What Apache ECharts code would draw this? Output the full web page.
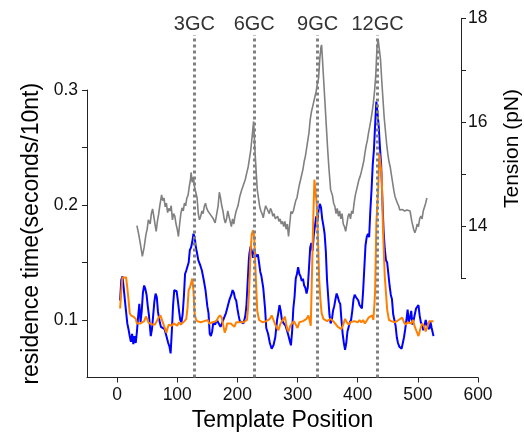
<!DOCTYPE html>
<html>
<head>
<meta charset="utf-8">
<script src="https://cdn.jsdelivr.net/npm/echarts@6/dist/echarts.min.js"></script>
<style>html,body{margin:0;padding:0;background:#fff}#c{width:524px;height:433px}</style>
</head>
<body>
<div id="c"></div>
<script>
// ---- data ----
const xTicks = [0, 100, 200, 300, 400, 500, 600];
const leftLabels = [0.1, 0.2, 0.3];
const leftTicks = [0.1, 0.15, 0.2, 0.25, 0.3];
const rightLabels = [14, 16, 18];
const rightTicks = [13, 14, 15, 16, 17, 18];
const gcPositions = [128.6, 228, 333.3, 433];
const gcLabels = ['3GC', '6GC', '9GC', '12GC'];

const blueX = [5,7,9,11,14,17,19,21,23,25,27,29,31,33,35,37,39,41,43,45,47,49,51,53,56,58,60,62,64,66,68,71,73,76,79,82,85,87,89,91,93,95,97,99,101,103,105,107,109,111,113,115,117,119,121,123,125,127,129,131,133,135,138,141,144,147,150,152,154,156,158,160,163,166,169,172,175,178,181,184,187,190,192,194,196,198,200,202,204,207,210,213,215,217,219,220,222,224,226,228,230,232,234,236,238,240,243,246,248,251,254,257,260,263,266,268,270,272,274,277,280,283,285,287,289,291,293,295,297,299,301,303,305,307,309,311,313,315,317,319,321,323,325,327,329,331,333,335,337,339,341,343,345,347,349,351,353,355,357,359,361,363,365,367,369,371,373,375,377,379,381,383,385,387,389,391,393,395,397,399,401,403,405,407,409,411,413,415,417,419,421,423,425,427,429,431,433,435,437,439,441,443,445,447,449,451,453,455,457,459,461,463,465,467,469,471,473,475,477,479,481,483,485,487,489,491,493,495,497,499,501,503,505,507,509,511,513,515,517,519,521,523,526];
const blueY = [0.117,0.135,0.138,0.128,0.112,0.097,0.092,0.086,0.081,0.088,0.079,0.086,0.080,0.090,0.103,0.114,0.098,0.108,0.124,0.130,0.127,0.122,0.112,0.104,0.086,0.092,0.104,0.116,0.123,0.120,0.107,0.098,0.094,0.095,0.092,0.086,0.080,0.077,0.071,0.090,0.112,0.126,0.127,0.125,0.117,0.108,0.100,0.098,0.105,0.120,0.140,0.143,0.144,0.150,0.161,0.163,0.168,0.175,0.172,0.163,0.158,0.152,0.148,0.143,0.135,0.126,0.112,0.106,0.088,0.086,0.090,0.098,0.096,0.100,0.097,0.094,0.098,0.102,0.106,0.112,0.118,0.122,0.126,0.124,0.119,0.117,0.110,0.104,0.099,0.098,0.097,0.103,0.112,0.132,0.152,0.158,0.164,0.160,0.154,0.160,0.157,0.155,0.157,0.150,0.142,0.138,0.128,0.110,0.093,0.088,0.080,0.075,0.078,0.085,0.100,0.106,0.113,0.108,0.100,0.097,0.095,0.090,0.086,0.082,0.078,0.090,0.110,0.120,0.136,0.140,0.146,0.140,0.138,0.134,0.136,0.130,0.128,0.123,0.128,0.145,0.163,0.167,0.160,0.174,0.182,0.190,0.186,0.196,0.201,0.198,0.188,0.182,0.175,0.160,0.135,0.120,0.105,0.097,0.100,0.108,0.112,0.118,0.123,0.120,0.116,0.114,0.100,0.088,0.080,0.074,0.080,0.090,0.094,0.098,0.100,0.108,0.118,0.122,0.120,0.121,0.117,0.113,0.112,0.110,0.125,0.145,0.165,0.172,0.175,0.172,0.195,0.213,0.235,0.248,0.270,0.290,0.280,0.268,0.250,0.235,0.205,0.178,0.162,0.152,0.150,0.140,0.130,0.122,0.118,0.105,0.100,0.095,0.085,0.080,0.077,0.076,0.075,0.080,0.085,0.092,0.100,0.109,0.098,0.102,0.108,0.096,0.100,0.105,0.110,0.110,0.113,0.104,0.098,0.096,0.091,0.095,0.100,0.096,0.095,0.092,0.098,0.093,0.086];

const orangeX = [5,7,9,12,15,17,19,21,23,25,27,29,31,33,36,39,42,45,48,50,52,55,58,61,63,66,69,72,74,76,78,80,82,84,86,88,91,94,97,100,103,106,109,112,115,117,119,121,123,125,127,129,131,133,136,139,142,145,148,151,153,156,159,162,165,168,171,174,177,179,181,183,186,189,192,195,198,201,204,207,210,213,216,218,220,222,224,226,228,230,232,233,236,239,242,245,248,251,254,257,260,263,266,268,271,274,277,279,281,283,285,288,291,294,297,300,303,306,309,312,315,318,320,322,324,326,328,330,332,334,336,338,340,343,346,349,352,355,358,361,364,367,370,373,376,379,382,385,388,391,394,397,400,403,406,409,412,415,418,421,424,426,428,429,431,434,436,438,440,442,445,449,452,456,459,462,465,468,471,474,477,480,483,486,489,492,495,498,501,504,507,510,513,516,519,522,526];
const orangeY = [0.110,0.125,0.137,0.138,0.137,0.128,0.118,0.106,0.104,0.105,0.103,0.104,0.101,0.097,0.098,0.097,0.098,0.099,0.103,0.101,0.098,0.097,0.096,0.095,0.096,0.099,0.102,0.104,0.103,0.098,0.095,0.092,0.089,0.093,0.096,0.097,0.095,0.097,0.097,0.095,0.098,0.096,0.097,0.099,0.101,0.110,0.126,0.128,0.132,0.136,0.125,0.105,0.101,0.099,0.098,0.098,0.098,0.099,0.098,0.100,0.097,0.096,0.098,0.097,0.099,0.102,0.104,0.102,0.094,0.089,0.092,0.097,0.098,0.097,0.096,0.094,0.098,0.097,0.098,0.099,0.098,0.099,0.100,0.112,0.132,0.160,0.175,0.178,0.172,0.145,0.120,0.108,0.100,0.099,0.098,0.098,0.099,0.098,0.101,0.104,0.100,0.096,0.093,0.091,0.096,0.099,0.101,0.103,0.097,0.092,0.090,0.095,0.097,0.099,0.096,0.093,0.098,0.098,0.099,0.100,0.101,0.104,0.100,0.095,0.140,0.185,0.222,0.221,0.200,0.170,0.135,0.118,0.106,0.101,0.100,0.099,0.100,0.101,0.102,0.098,0.096,0.094,0.095,0.092,0.096,0.101,0.098,0.096,0.098,0.097,0.099,0.098,0.098,0.100,0.098,0.100,0.097,0.098,0.102,0.103,0.104,0.100,0.115,0.126,0.184,0.213,0.245,0.246,0.225,0.180,0.138,0.109,0.100,0.099,0.099,0.098,0.099,0.100,0.101,0.102,0.098,0.096,0.098,0.099,0.097,0.100,0.094,0.090,0.086,0.092,0.097,0.095,0.090,0.094,0.099,0.098,0.099];

const tensionX = [33,36,39,42,45,48,50,52,55,57,59,61,63,65,67,69,71,74,76,78,80,82,84,86,88,90,92,94,96,98,100,102,104,106,108,110,112,114,116,118,120,122,123,125,127,129,131,133,135,137,139,141,143,145,147,149,151,154,157,160,163,165,168,170,172,174,176,178,180,182,184,186,188,190,192,194,196,198,201,204,207,210,213,216,218,220,222,224,226,227,229,231,233,235,237,239,241,243,245,247,249,251,253,255,257,259,261,263,265,267,269,271,273,275,277,279,281,283,285,287,289,291,293,295,297,299,301,303,305,307,309,311,313,315,317,319,321,323,325,327,329,331,333,335,337,339,340,342,344,346,348,350,352,355,358,360,362,364,366,368,370,372,374,376,378,380,382,384,386,388,390,392,394,396,399,402,404,406,408,410,412,414,416,418,420,422,424,426,428,430,432,434,436,438,440,442,444,446,448,450,452,454,456,458,460,462,464,466,468,470,474,478,482,487,490,493,495,497,499,501,503,505,507,509,511,513,515];
const tensionY = [14.02,13.85,13.65,13.43,13.60,13.85,13.95,14.13,14.05,14.25,14.34,14.20,14.05,13.91,14.10,14.23,14.40,14.61,14.50,14.55,14.38,14.45,14.27,14.35,14.30,14.40,14.13,14.25,14.20,14.05,13.95,13.81,14.05,14.25,14.36,14.30,14.45,14.40,14.55,14.60,14.77,14.90,15.04,14.85,14.95,14.75,14.65,14.55,14.25,14.13,14.20,14.30,14.25,14.39,14.45,14.35,14.30,14.25,14.28,14.15,14.07,14.20,14.40,14.66,14.55,14.40,14.30,14.15,14.07,14.15,14.30,14.20,14.10,14.00,14.15,14.05,14.20,14.30,14.40,14.58,14.70,14.80,14.90,15.05,15.15,15.30,15.45,15.67,15.90,16.02,15.50,15.10,14.71,14.55,14.39,14.30,14.25,14.17,14.30,14.40,14.42,14.30,14.25,14.35,14.30,14.20,14.25,14.15,14.13,14.20,14.10,14.15,14.05,14.10,14.00,14.10,13.95,14.05,13.81,14.05,14.29,14.25,14.30,14.40,14.50,14.55,14.68,14.80,14.90,15.00,15.10,15.25,15.35,15.50,15.65,15.80,16.05,16.20,16.30,16.40,16.50,16.60,16.75,16.85,17.23,17.45,17.49,17.10,16.70,16.30,15.90,15.50,15.15,14.71,14.60,14.45,14.39,14.25,14.35,14.20,14.30,14.15,14.25,14.05,14.00,13.91,14.05,14.20,14.25,14.15,14.30,14.25,14.45,14.60,14.75,14.90,14.96,15.05,15.15,15.25,15.41,15.55,15.65,15.80,15.92,16.05,16.20,16.37,16.60,16.90,17.42,17.60,17.62,17.20,16.80,16.45,16.10,15.85,15.60,15.40,15.25,15.15,15.00,14.85,14.70,14.58,14.55,14.45,14.40,14.32,14.33,14.30,14.32,14.30,14.10,13.95,13.88,13.95,14.05,14.00,14.15,14.20,14.15,14.30,14.28,14.45,14.55];

// ---- chart ----
const FONT = 'Liberation Sans';
const AX = '#222';
const pairs = (xs, ys) => xs.map((x, i) => [x, ys[i]]);

const chart = echarts.init(document.getElementById('c'), null, {renderer: 'canvas'});
chart.setOption({
  animation: false,
  backgroundColor: '#fff',
  textStyle: {fontFamily: FONT},
  grid: [
    {left: 87, right: 46, top: 90, bottom: 55.5, outerBoundsMode: 'none', containLabel: false},
    {left: 87, right: 46, top: 18.3, bottom: 154.3, outerBoundsMode: 'none', containLabel: false},
    {left: 87, right: 46, top: 35, bottom: 55.5, outerBoundsMode: 'none', containLabel: false}
  ],
  xAxis: [
    {
      gridIndex: 0, type: 'value', min: -50, max: 600,
      name: 'Template Position', nameLocation: 'middle', nameGap: 32,
      nameTextStyle: {fontSize: 23, color: '#000', fontFamily: FONT},
      axisLine: {show: true, onZero: false, lineStyle: {color: AX, width: 1}},
      axisTick: {show: true, length: 5, customValues: xTicks, lineStyle: {color: AX}},
      axisLabel: {customValues: xTicks, fontSize: 17.5, color: '#111', margin: 9, fontFamily: FONT},
      splitLine: {show: false}
    },
    {gridIndex: 1, type: 'value', min: -50, max: 600, show: false},
    {gridIndex: 2, type: 'value', min: -50, max: 600, show: false}
  ],
  yAxis: [
    {
      gridIndex: 0, type: 'value', min: 0.05, max: 0.3, position: 'left',
      name: 'residence time(seconds/10nt)', nameLocation: 'middle', nameGap: 38, nameRotate: 90,
      nameTextStyle: {fontSize: 23, color: '#000', fontFamily: FONT},
      axisLine: {show: true, onZero: false, lineStyle: {color: AX, width: 1}},
      axisTick: {show: true, length: 5, customValues: leftTicks, lineStyle: {color: AX}},
      axisLabel: {customValues: leftLabels, fontSize: 17.5, color: '#111', margin: 9, fontFamily: FONT},
      splitLine: {show: false}
    },
    {
      gridIndex: 1, type: 'value', min: 13, max: 18, position: 'right', offset: -17,
      name: 'Tension (pN)', nameLocation: 'middle', nameGap: 41, nameRotate: 90,
      nameTextStyle: {fontSize: 21, color: '#000', fontFamily: FONT},
      axisLine: {show: true, onZero: false, lineStyle: {color: AX, width: 1}},
      axisTick: {show: true, length: 5, customValues: rightTicks, lineStyle: {color: AX}},
      axisLabel: {customValues: rightLabels, fontSize: 17.5, color: '#111', margin: 7, fontFamily: FONT},
      splitLine: {show: false}
    },
    {gridIndex: 2, type: 'value', min: 0, max: 1, show: false}
  ],
  series: [
    {
      name: 'Tension', type: 'line', xAxisIndex: 1, yAxisIndex: 1,
      data: pairs(tensionX, tensionY), showSymbol: false, symbol: 'none',
      lineStyle: {color: '#808080', width: 1.6}, z: 2
    },
    {
      name: 'blue', type: 'line', xAxisIndex: 0, yAxisIndex: 0,
      data: pairs(blueX, blueY), showSymbol: false, symbol: 'none',
      lineStyle: {color: '#0000ff', width: 2}, z: 3
    },
    {
      name: 'orange', type: 'line', xAxisIndex: 0, yAxisIndex: 0,
      data: pairs(orangeX, orangeY), showSymbol: false, symbol: 'none',
      lineStyle: {color: '#ff8000', width: 2}, z: 4
    },
    {
      name: 'GC', type: 'line', xAxisIndex: 2, yAxisIndex: 2, data: [], z: 5,
      markLine: {
        silent: true, symbol: ['none', 'none'], animation: false,
        lineStyle: {type: 'dotted', color: '#808080', width: 3},
        label: {show: true, position: 'end', formatter: p => p.name, fontSize: 20, color: '#333', distance: 1, fontFamily: FONT},
        emphasis: {disabled: true},
        data: gcPositions.map((x, i) => ({xAxis: x, name: gcLabels[i]}))
      }
    }
  ]
});
</script>
</body>
</html>
